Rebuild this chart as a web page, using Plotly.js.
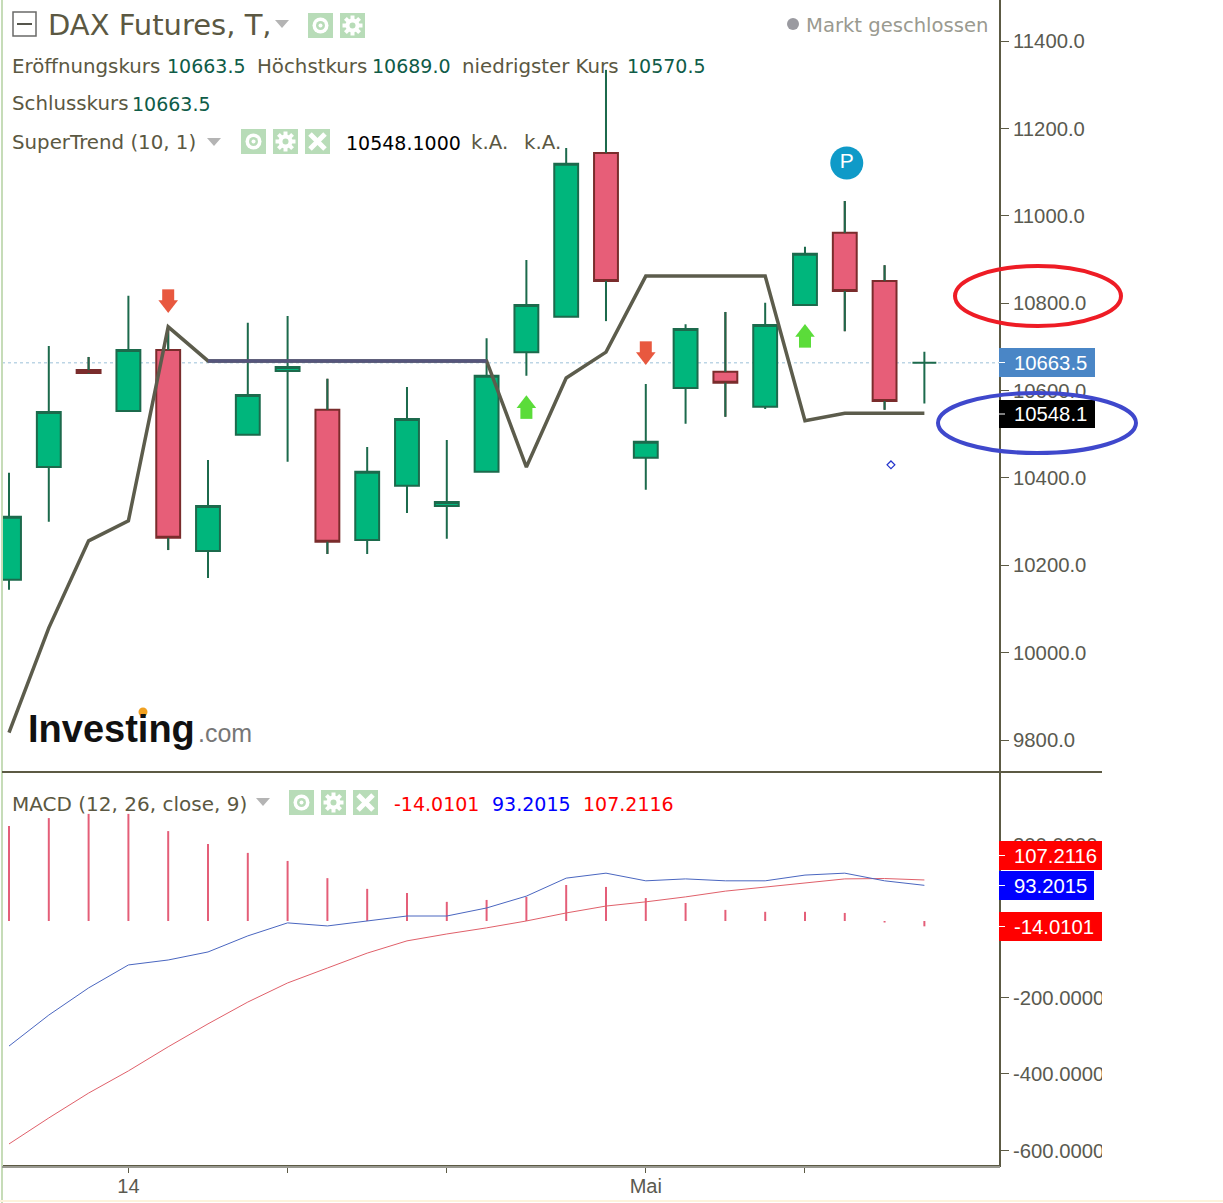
<!DOCTYPE html>
<html><head><meta charset="utf-8">
<script src="https://cdn.plot.ly/plotly-3.0.1.min.js"></script>
<style>html,body{margin:0;padding:0;background:#fff}</style></head>
<body><div id="chart" style="width:1223px;height:1203px"></div>
<script>
const idx = [0,1,2,3,4,5,6,7,8,9,10,11,12,13,14,15,16,17,18,19,20,21,22,23];
const open_ = [10167,10425,10647,10553,10693,10233,10499,10645,10556,10258,10382,10336,10414,10688,10769,11144,10446,10606,10643,10563,10796,10961,10851,10663.5];
const close_ = [10311,10551,10640,10693,10263,10336,10590,10654,10254,10414,10535,10345,10634,10796,11119,10851,10483,10741,10618,10750,10913,10828,10576,10663.5];
const high_ = [10412,10702,10677,10817,10743,10441,10755,10771,10627,10471,10608,10487,10720,10899,11155,11334,10615,10752,10780,10801,10929,11034,10887,10689];
const low_ = [10144,10300,10638,10553,10235,10171,10499,10437,10226,10226,10320,10261,10414,10634,10769,10759,10373,10524,10540,10558,10796,10736,10556,10570.5];
const superTrend = [9817,10057,10256,10302,10746,10668,10668,10668,10668,10668,10668,10668,10668,10425,10629,10688,10862,10862,10862,10862,10531,10548,10548,10548];
const macdLine = [-327,-246,-175,-115,-102,-81,-39,-5,-13,0,13,13,34,65,112,125,105,110,105,105,120,125,105,93.2];
const signalLine = [-583,-515,-450,-392,-329,-269,-212,-162,-123,-84,-52,-34,-18,0,21,39,50,63,78,89,99,110,111,107.2];
const histogram = [248,269,280,280,235,201,178,157,112,84,73,50,55,63,94,89,60,47,29,24,24,21,-4,-14];
const priceTicks = [9800,10000,10200,10400,10600,10800,11000,11200,11400];
const macdTicks = [-600,-400,-200,200];
const macdTickText = ['-600.0000','-400.0000','-200.0000','200.0000'];
const xTickVals = [3,7,11,16,20];
const xTickText = ['14','','','Mai',''];
const downIdx = [4,16], downVal = [10807,10688];
const upIdx = [13,20], upVal = [10560,10723];

const W = 1223, H = 1203;
const px = v => v / W, py = v => 1 - v / H;
const BROWN = '#5c5a44', TXT = '#5b5842', VAL = '#0f5c48';
const UI = 'DejaVu Sans, sans-serif', AX = 'Liberation Sans, Arial, sans-serif';

const red = '#e75e78', green = '#00b67c';
const redIdx = idx.filter(i => close_[i] < open_[i]);
function wickPts() {
  const xs = [], ys = [];
  redIdx.forEach(i => { xs.push(i, i, null, i, i, null); ys.push(high_[i], open_[i], null, close_[i], low_[i], null); });
  return {xs, ys};
}
const w = wickPts();

const traces = [
  {type:'bar', x:idx, y:histogram, xaxis:'x', yaxis:'y2', width:0.05, marker:{color:'#e45e78', line:{width:0}}},
  {type:'scatter', mode:'lines', x:idx, y:signalLine, xaxis:'x', yaxis:'y2', line:{color:'#e0606a', width:1}},
  {type:'scatter', mode:'lines', x:idx, y:macdLine, xaxis:'x', yaxis:'y2', line:{color:'#4a66c0', width:1}},
  {type:'candlestick', x:idx, open:open_, high:high_, low:low_, close:close_, xaxis:'x', yaxis:'y', whiskerwidth:0,
    increasing:{line:{color:'#1c6a4c', width:2}, fillcolor:green},
    decreasing:{line:{color:'#7a2c2c', width:2}, fillcolor:red}},
  {type:'scatter', mode:'lines', x:w.xs, y:w.ys, xaxis:'x', yaxis:'y', line:{color:'#1c6a4c', width:2}, connectgaps:false},
  {type:'scatter', mode:'lines', x:idx, y:superTrend, xaxis:'x', yaxis:'y', line:{color:'#5c5c4c', width:3.5}},
  {type:'scatter', mode:'lines', x:idx.slice(5,13), y:superTrend.slice(5,13), xaxis:'x', yaxis:'y', line:{color:'#55557c', width:3.5}},
  {type:'scatter', mode:'markers', x:downIdx, y:downVal.map(v=>v+11), xaxis:'x', yaxis:'y', marker:{symbol:'square', size:12, color:'#e8583f'}},
  {type:'scatter', mode:'markers', x:downIdx, y:downVal.map(v=>v-10), xaxis:'x', yaxis:'y', marker:{symbol:'triangle-down', size:17, color:'#e8583f'}},
  {type:'scatter', mode:'markers', x:upIdx, y:upVal.map(v=>v-11), xaxis:'x', yaxis:'y', marker:{symbol:'square', size:12, color:'#5bdc3a'}},
  {type:'scatter', mode:'markers', x:upIdx, y:upVal.map(v=>v+10), xaxis:'x', yaxis:'y', marker:{symbol:'triangle-up', size:17, color:'#5bdc3a'}},
  {type:'scatter', mode:'markers+text', x:[21.05], y:[11121], xaxis:'x', yaxis:'y', text:['P'], textposition:'middle center',
    textfont:{family:AX, size:21, color:'#fff'}, marker:{size:33, color:'#0f9ac8', line:{width:0}}},
  {type:'scatter', mode:'markers', x:[22.16], y:[10430], xaxis:'x', yaxis:'y', marker:{symbol:'diamond-open', size:6, color:'#2233cc', line:{width:1.2, color:'#2233cc'}}},
];

const shapes = [];
const ann = [];
const rect = (x0,y0,x1,y1,fill,line) => shapes.push({type:'rect', xref:'paper', yref:'paper', x0:px(x0), x1:px(x1), y0:py(y1), y1:py(y0), fillcolor:fill, line:line||{width:0}, layer:'above'});
const seg = (x0,y0,x1,y1,color,width,dash) => shapes.push({type:'line', xref:'paper', yref:'paper', x0:px(x0), x1:px(x1), y0:py(y0), y1:py(y1), line:{color,width,dash:dash||'solid'}, layer:'above'});
const circ = (cx,cy,r,fill,line) => shapes.push({type:'circle', xref:'paper', yref:'paper', x0:px(cx-r), x1:px(cx+r), y0:py(cy+r), y1:py(cy-r), fillcolor:fill, line:line||{width:0}, layer:'above'});
const txt = (x,y,text,color,size,opts) => ann.push(Object.assign({xref:'paper', yref:'paper', x:px(x-1), y:py(y), text, showarrow:false, xanchor:'left', yanchor:'middle', font:{family:UI, size, color, stretch:'condensed'}, borderpad:0}, opts||{}));
const tri = (cx,cy) => shapes.push({type:'path', xref:'paper', yref:'paper', path:`M ${px(cx-7)} ${py(cy-4)} L ${px(cx+7)} ${py(cy-4)} L ${px(cx)} ${py(cy+4)} Z`, fillcolor:'#b4b4b4', line:{width:0}, layer:'above'});

const ICON = '#b8dcb8';
function eye(x,y){ rect(x,y,x+25,y+25,ICON); circ(x+12.5,y+12.5,8,'#fff'); circ(x+12.5,y+12.5,4.5,ICON); circ(x+12.5,y+12.5,2,'#fff'); }
function gear(x,y){ rect(x,y,x+25,y+25,ICON); const c=[x+12.5,y+12.5];
  for(let a=0;a<4;a++){ const t=a*Math.PI/4, dx=Math.cos(t)*10, dy=Math.sin(t)*10; seg(c[0]-dx,c[1]-dy,c[0]+dx,c[1]+dy,'#fff',4); }
  circ(c[0],c[1],7,'#fff'); circ(c[0],c[1],3,ICON); }
function cross(x,y){ rect(x,y,x+25,y+25,ICON); seg(x+5,y+5,x+20,y+20,'#fff',5); seg(x+20,y+5,x+5,y+20,'#fff',5); }

// clip MACD tick labels at the chart's right edge
rect(1102,773,1223,1164,'#fff');
// edges
seg(2,0,2,1203,'#c6dcb8',2);
seg(0,1201,1223,1201,'#fdf3dc',2);
seg(2,772,1102,772,BROWN,2);
seg(2,1167,1000,1167,'#9a9a92',2);
// last-price guide
shapes.push({type:'line', xref:'paper', yref:'y', x0:px(2), x1:px(1000), y0:10663.5, y1:10663.5, line:{color:'#9cc0d8', width:1, dash:'dot'}, layer:'below'});

// header icons
rect(13,12,36,36,'#fff',{color:'#6a6a68',width:1.5});
seg(17,24,32,24,'#55554c',2);
tri(282,24); tri(214,142); tri(263,802);
eye(308,13); gear(340,13);
eye(241,129); gear(273,129); cross(305,129);
eye(289,790); gear(321,790); cross(353,790);
circ(793,24,6,'#9a9aa0');

// right-hand value boxes
function tag(x1,y0,y1,fill,text){
  rect(999,y0,x1,y1,fill); seg(999,(y0+y1)/2,1005,(y0+y1)/2,'#fff',1);
  txt(1014,(y0+y1)/2+0.5,text,'#fff',20.3,{font:{family:AX,size:20.3,color:'#fff'}});
}
tag(1095,348,377,'#4a86c6','10663.5');
tag(1095,400,428,'#000','10548.1');
tag(1102,841,870,'#ff0000','107.2116');
tag(1094,871,900,'#0000ff','93.2015');
tag(1102,912,941,'#ff0000','-14.0101');

// annotation ellipses
shapes.push({type:'circle', xref:'paper', yref:'paper', x0:px(955), x1:px(1121), y0:py(326), y1:py(266), line:{color:'#ee1c25',width:4}, fillcolor:'rgba(0,0,0,0)', layer:'above'});
shapes.push({type:'circle', xref:'paper', yref:'paper', x0:px(938), x1:px(1136), y0:py(453), y1:py(393), line:{color:'#3f48cc',width:4}, fillcolor:'rgba(0,0,0,0)', layer:'above'});

// logo
circ(143,712,4.5,'#f0a020');
txt(28,729,'Investing','#111',38,{font:{family:AX,size:38,color:'#111',weight:700}});
txt(198,733,'.com','#777',25,{font:{family:AX,size:25,color:'#777'}});

// header text
const S = 19.8, V = 19;
txt(48,25,'DAX Futures, T,',TXT,29);
txt(806,25,'Markt geschlossen','#9a9a90',19.6);
txt(12,66,'Eröffnungskurs',TXT,S); txt(167,66,'10663.5',VAL,V);
txt(257,66,'Höchstkurs',TXT,S); txt(372,66,'10689.0',VAL,V);
txt(462,66,'niedrigster Kurs',TXT,S); txt(627,66,'10570.5',VAL,V);
txt(12,104,'Schlusskurs',TXT,S); txt(132,104,'10663.5',VAL,V);
txt(12,143,'SuperTrend (10, 1)',TXT,S);
txt(346,143,'10548.1000','#000',V); txt(471,143,'k.A.',TXT,S); txt(524,143,'k.A.',TXT,S);
txt(12,804,'MACD (12, 26, close, 9)',TXT,20);
txt(394,804,'-14.0101','#ff0000',V); txt(492,804,'93.2015','#0000ff',V); txt(583,804,'107.2116','#ff0000',V);

const layout = {
  width:W, height:H, margin:{l:0,r:0,t:0,b:0}, paper_bgcolor:'#fff', plot_bgcolor:'#fff',
  showlegend:false, boxgap:0.4, boxgroupgap:0, boxmode:'overlay', hovermode:false,
  xaxis:{domain:[px(2),px(999)], range:[-0.176,24.875], anchor:'y2', rangeslider:{visible:false}, showgrid:false, zeroline:false,
    tickmode:'array', tickvals:xTickVals, ticktext:xTickText, ticks:'outside', ticklen:6, tickcolor:BROWN, tickwidth:1, ticklabelstandoff:-4,
    showline:true, linecolor:BROWN, linewidth:2, tickfont:{family:AX,size:20,color:'#5a5a50'}},
  yaxis:{domain:[py(772),1], range:[9727,11494], side:'right', anchor:'x', showgrid:false, zeroline:false,
    tickmode:'array', tickvals:priceTicks, tickformat:'.1f', ticks:'outside', ticklen:8, tickcolor:BROWN, tickwidth:1,
    showline:true, linecolor:BROWN, linewidth:2, tickfont:{family:AX,size:20.3,color:'#5a5a50'}},
  yaxis2:{domain:[py(1165),py(772)], range:[-638,389.5], side:'right', anchor:'x', showgrid:false, zeroline:false,
    tickmode:'array', tickvals:macdTicks, ticktext:macdTickText, ticks:'outside', ticklen:8, tickcolor:BROWN, tickwidth:1,
    showline:true, linecolor:BROWN, linewidth:2, tickfont:{family:AX,size:20.3,color:'#5a5a50'}},
  shapes, annotations:ann
};
Plotly.newPlot('chart', traces, layout, {displayModeBar:false, staticPlot:true});
</script></body></html>
